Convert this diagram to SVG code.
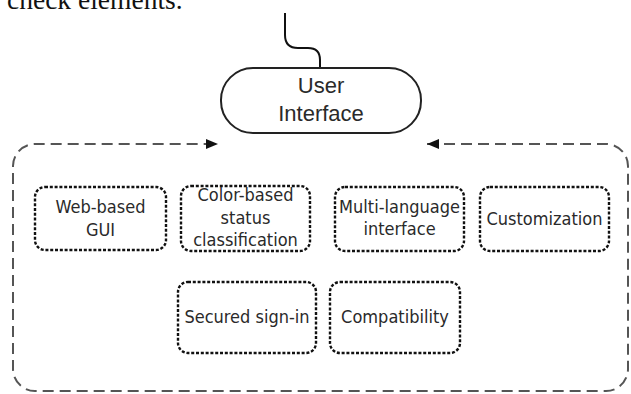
<svg xmlns="http://www.w3.org/2000/svg" width="631" height="394" viewBox="0 0 631 394">
<defs>
<marker id="ah" viewBox="0 0 12 10" refX="12" refY="5" markerWidth="12" markerHeight="10" markerUnits="userSpaceOnUse" orient="auto-start-reverse">
<path d="M0,0 L12,5 L0,10 z" fill="#111"/>
</marker>
<style>
.lbl{font-family:"DejaVu Sans","Liberation Sans",sans-serif;font-stretch:condensed;font-size:18px;fill:#2a2a2a;text-anchor:middle}
.ui{font-family:"Liberation Sans",Arial,sans-serif;font-size:22px;fill:#2a2a2a;text-anchor:middle}
.box{fill:#fff;stroke:#111;stroke-width:2.4;stroke-dasharray:3 1.8}
.cap{font-family:"Liberation Serif","Times New Roman",serif;font-size:27.5px;fill:#111}
</style>
</defs>
<rect width="631" height="394" fill="#fff"/>
<text class="cap" x="7" y="9">check elements.</text>
<g id="connectors">
<path d="M285,13 V35 Q285,48 298,48 H308 Q320,48 320,60 V68" fill="none" stroke="#111" stroke-width="2"/>
<path d="M427,144 H606 A22 22 0 0 1 628,166 V369 A22 22 0 0 1 606,391 H35 A22 22 0 0 1 13,369 V166 A22 22 0 0 1 35,144 H218" fill="none" stroke="#555" stroke-width="2" stroke-dasharray="11 6" marker-start="url(#ah)" marker-end="url(#ah)"/>
</g>
<g id="user-interface">
<rect x="221" y="68" width="200" height="65" rx="32" fill="#fff" stroke="#222" stroke-width="2"/>
<text class="ui" x="321" y="93">User</text>
<text class="ui" x="321" y="121">Interface</text>
</g>
<g id="web-gui">
<rect class="box" x="35" y="187" width="131" height="63" rx="10"/>
<text class="lbl" x="100.5" y="213">Web-based</text>
<text class="lbl" x="100.5" y="236">GUI</text>
</g>
<g id="color-status">
<rect class="box" x="181" y="186" width="129" height="65" rx="10"/>
<text class="lbl" x="245.5" y="201">Color-based</text>
<text class="lbl" x="245.5" y="224">status</text>
<text class="lbl" x="245.5" y="246">classification</text>
</g>
<g id="multi-language">
<rect class="box" x="335" y="187" width="129" height="64" rx="10"/>
<text class="lbl" x="399.5" y="213">Multi-language</text>
<text class="lbl" x="399.5" y="235">interface</text>
</g>
<g id="customization">
<rect class="box" x="480" y="187" width="129" height="64" rx="10"/>
<text class="lbl" x="544.5" y="225">Customization</text>
</g>
<g id="secured-sign-in">
<rect class="box" x="178" y="282" width="138" height="71" rx="10"/>
<text class="lbl" x="247" y="323">Secured sign-in</text>
</g>
<g id="compatibility">
<rect class="box" x="330" y="282" width="130" height="71" rx="10"/>
<text class="lbl" x="395" y="323">Compatibility</text>
</g>
</svg>
